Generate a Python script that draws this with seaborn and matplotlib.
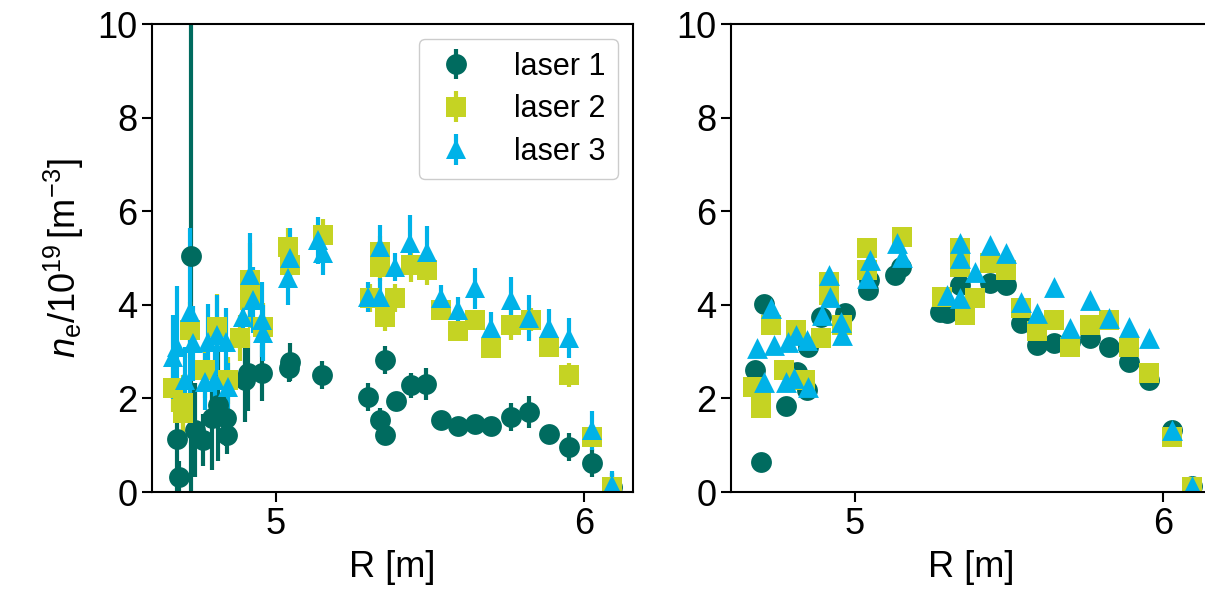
import matplotlib
matplotlib.use("Agg")
import matplotlib.pyplot as plt
import seaborn as sns

sns.set_theme(style="ticks")
plt.rcParams["font.family"] = ["Liberation Sans", "DejaVu Sans"]
plt.rcParams["mathtext.fontset"] = "custom"
plt.rcParams["mathtext.rm"] = "Liberation Sans"
plt.rcParams["mathtext.it"] = "Liberation Sans:italic"
plt.rcParams["text.color"] = "black"
plt.rcParams["axes.labelcolor"] = "black"

labels = ["laser 1", "laser 2", "laser 3"]
colors = ["#006b5f", "#c5d323", "#00b2e8"]
markers = ["o", "s", "^"]

# left panel (with uncertainties)
r_left_1 = [4.677, 4.686, 4.723, 4.737, 4.764, 4.791, 4.810, 4.839, 4.842, 4.900, 4.910,
            4.953, 5.045, 5.043, 5.148, 5.299, 5.337, 5.354, 5.354, 5.389, 5.437, 5.487,
            5.537, 5.591, 5.646, 5.700, 5.765, 5.822, 5.887, 5.952, 6.028, 6.091]
ne_left_1 = [1.13, 0.31, 5.04, 1.32, 1.11, 1.58, 1.86, 1.58, 1.22, 2.40, 2.54,
             2.54, 2.78, 2.65, 2.50, 2.03, 1.54, 2.82, 1.22, 1.94, 2.28, 2.31,
             1.54, 1.41, 1.45, 1.41, 1.60, 1.71, 1.24, 0.96, 0.62, 0.10]
err_left_1 = [1.1, 0.35, 5.5, 1.0, 0.55, 1.1, 1.2, 0.6, 0.4, 0.9, 0.8,
              0.6, 0.4, 0.3, 0.3, 0.3, 0.25, 0.3, 0.1, 0.1, 0.27, 0.34,
              0.05, 0.05, 0.05, 0.05, 0.3, 0.34, 0.05, 0.3, 0.3, 0.3]

r_left_2 = [4.666, 4.699, 4.699, 4.720, 4.769, 4.807, 4.845, 4.883, 4.915, 4.915, 4.958,
            5.040, 5.045, 5.153, 5.305, 5.337, 5.337, 5.354, 5.386, 5.440, 5.489, 5.537,
            5.591, 5.646, 5.700, 5.765, 5.827, 5.887, 5.952, 6.028, 6.091]
ne_left_2 = [2.22, 1.90, 1.69, 3.46, 2.61, 3.53, 2.39, 3.29, 4.53, 4.10, 3.53,
             5.24, 4.85, 5.49, 4.15, 5.13, 4.81, 3.75, 4.15, 4.85, 4.74, 3.89,
             3.43, 3.68, 3.08, 3.57, 3.68, 3.10, 2.50, 1.18, 0.10]
err_left_2 = [0.5, 0.6, 0.5, 0.6, 0.6, 0.7, 0.5, 0.5, 0.8, 0.6, 0.5,
              0.4, 0.4, 0.35, 0.3, 0.35, 0.3, 0.3, 0.3, 0.36, 0.32, 0.2,
              0.2, 0.2, 0.2, 0.32, 0.25, 0.2, 0.26, 0.2, 0.2]

r_left_3 = [4.666, 4.677, 4.704, 4.720, 4.731, 4.769, 4.780, 4.801, 4.807, 4.839, 4.845,
            4.894, 4.915, 4.926, 4.953, 4.958, 5.040, 5.045, 5.137, 5.153, 5.299, 5.337,
            5.337, 5.386, 5.435, 5.489, 5.537, 5.591, 5.646, 5.700, 5.765, 5.822, 5.887,
            5.952, 6.028, 6.091]
ne_left_3 = [2.89, 3.10, 2.39, 3.85, 3.18, 2.36, 3.21, 2.39, 3.35, 3.21, 2.25,
             3.75, 4.64, 4.10, 3.68, 3.40, 4.57, 5.00, 5.38, 5.10, 4.17, 5.24,
             4.17, 4.81, 5.31, 5.13, 4.15, 3.89, 4.35, 3.50, 4.10, 3.72, 3.50,
             3.29, 1.32, 0.15]
err_left_3 = [0.9, 1.3, 0.7, 1.8, 0.8, 0.6, 0.8, 0.6, 0.85, 0.72, 0.5,
              0.6, 0.9, 0.7, 0.8, 0.6, 0.57, 0.64, 0.5, 0.46, 0.32, 0.46,
              0.4, 0.3, 0.6, 0.55, 0.28, 0.28, 0.44, 0.35, 0.5, 0.5, 0.4,
              0.43, 0.42, 0.3]

# right panel (no uncertainties)
r_right_1 = [4.676, 4.695, 4.705, 4.776, 4.811, 4.843, 4.847, 4.890, 4.966, 5.042, 5.045,
             5.129, 5.150, 5.275, 5.300, 5.342, 5.440, 5.489, 5.538, 5.592, 5.646, 5.700,
             5.765, 5.825, 5.890, 5.955, 6.031, 6.096]
ne_right_1 = [2.61, 0.65, 4.02, 1.84, 2.57, 2.18, 3.10, 3.75, 3.82, 4.32, 4.53,
              4.64, 4.81, 3.85, 3.82, 4.42, 4.46, 4.42, 3.61, 3.14, 3.18, 3.20,
              3.30, 3.10, 2.78, 2.39, 1.32, 0.12]

r_right_2 = [4.670, 4.695, 4.695, 4.728, 4.769, 4.807, 4.839, 4.888, 4.915, 4.915, 4.958,
             5.040, 5.040, 5.153, 5.283, 5.342, 5.342, 5.357, 5.389, 5.440, 5.489, 5.538,
             5.592, 5.646, 5.700, 5.765, 5.825, 5.890, 5.955, 6.031, 6.096]
ne_right_2 = [2.25, 1.79, 2.00, 3.57, 2.61, 3.46, 2.39, 3.29, 4.49, 4.20, 3.57,
              5.21, 4.75, 5.45, 4.17, 5.21, 4.81, 3.78, 4.15, 4.89, 4.74, 3.93,
              3.43, 3.68, 3.10, 3.57, 3.68, 3.10, 2.54, 1.18, 0.10]

r_right_3 = [4.682, 4.705, 4.727, 4.738, 4.776, 4.782, 4.808, 4.803, 4.843, 4.847, 4.894,
             4.915, 4.920, 4.953, 4.958, 5.048, 5.040, 5.137, 5.153, 5.300, 5.342, 5.342,
             5.389, 5.342, 5.439, 5.489, 5.540, 5.592, 5.646, 5.700, 5.765, 5.825, 5.890,
             5.955, 6.031, 6.096]
ne_right_3 = [3.08, 2.36, 3.93, 3.14, 2.36, 3.21, 3.35, 2.43, 3.25, 2.25, 3.78,
              4.64, 4.17, 3.64, 3.35, 4.96, 4.57, 5.31, 5.03, 4.21, 5.31, 4.99,
              4.71, 4.14, 5.28, 5.10, 4.07, 3.82, 4.39, 3.50, 4.10, 3.71, 3.53,
              3.28, 1.32, 0.12]

left_sets = [(r_left_1, ne_left_1, err_left_1),
             (r_left_2, ne_left_2, err_left_2),
             (r_left_3, ne_left_3, err_left_3)]
right_sets = [(r_right_1, ne_right_1), (r_right_2, ne_right_2), (r_right_3, ne_right_3)]

fig = plt.figure(figsize=(12.05, 6.03), dpi=100)
ax1 = fig.add_axes([152 / 1205, 111 / 603, 481 / 1205, 468 / 603])
ax2 = fig.add_axes([731 / 1205, 111 / 603, 481 / 1205, 468 / 603])

ms = 15
for (r, ne, err), lab, c, m in zip(left_sets, labels, colors, markers):
    ax1.errorbar(r, ne, yerr=err, fmt=m, color=c, ms=ms, mew=0,
                 elinewidth=3, capsize=0, label=lab)

for (r, ne), c, m in zip(right_sets, colors, markers):
    sns.scatterplot(x=r, y=ne, marker=m, color=c, s=ms ** 2, linewidth=0, ax=ax2)

for ax in (ax1, ax2):
    ax.set_xlim(4.597, 6.16)
    ax.set_ylim(0, 10)
    ax.set_xticks([5, 6])
    ax.set_yticks([0, 2, 4, 6, 8, 10])
    ax.tick_params(labelsize=26, length=7, width=1.5, direction="out",
                   colors="black", labelcolor="black")
    for sp in ax.spines.values():
        sp.set_linewidth(1.5)
        sp.set_color("black")
    ax.set_xlabel("R [m]", fontsize=26, labelpad=6, color="black")

ax1.set_ylabel(r"$n_\mathrm{e}/10^{19}\,[\mathrm{m}^{-3}]$", fontsize=26,
               labelpad=8, color="black")

leg = ax1.legend(loc="upper right", fontsize=22, frameon=True, fancybox=True,
                 edgecolor="#cccccc", framealpha=1, handlelength=1.6,
                 borderpad=0.4, labelspacing=0.42, handletextpad=1.1)
for t in leg.get_texts():
    t.set_color("black")

fig.savefig("out.png", dpi=100)
